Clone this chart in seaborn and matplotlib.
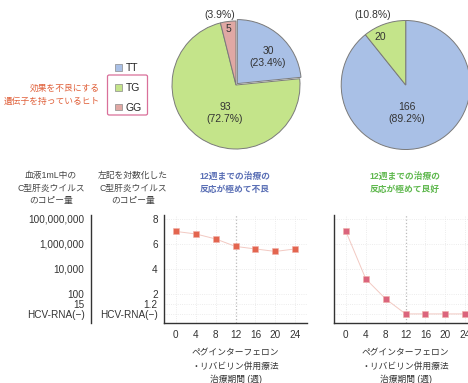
import numpy as np
import pandas as pd
import matplotlib
matplotlib.use("Agg")
import matplotlib.pyplot as plt
from matplotlib.patches import Patch, FancyBboxPatch
import seaborn as sns

# ---- data ----
genotypes = ["TT", "TG", "GG"]
poor_counts = [30, 93, 5]       # 12-week response extremely poor
good_counts = [166, 20, 0]      # 12-week response extremely good
pie_colors = ["#a9c0e6", "#c4e48a", "#e0a8a4"]

weeks = [0, 4, 8, 12, 16, 20, 24]
poor_log_copies = [7.0, 6.8, 6.4, 5.8, 5.6, 5.4, 5.6]
good_log_copies = [7.0, 3.2, 1.6, 0.4, 0.4, 0.4, 0.4]

ytick_vals = [8, 6, 4, 2, 1.2, 0.4]
ytick_log_labels = ["8", "6", "4", "2", "1.2", "HCV-RNA(\u2212)"]
ytick_copy_labels = ["100,000,000", "1,000,000", "10,000", "100", "15", "HCV-RNA(\u2212)"]

W, H = 468, 383

sns.set_theme(style="white")
plt.rcParams["font.family"] = ["Liberation Sans", "Noto Sans CJK JP"]
plt.rcParams["axes.unicode_minus"] = True

fig = plt.figure(figsize=(W / 100, H / 100), dpi=100)
fig.patch.set_facecolor("white")


def box(x0, y0, x1, y1):
    """Pixel box (top-left origin) -> figure fraction rect."""
    return [x0 / W, 1 - y1 / H, (x1 - x0) / W, (y1 - y0) / H]


def fxy(x, y):
    return x / W, 1 - y / H


# ---- pies ----
def draw_pie(cx, cy, r, counts, explode, label_pos):
    ax = fig.add_axes(box(cx - r, cy - r, cx + r, cy + r))
    vals = [c for c in counts if c > 0]
    cols = [pie_colors[i] for i, c in enumerate(counts) if c > 0]
    exp = [explode[i] for i, c in enumerate(counts) if c > 0]
    ax.pie(vals, colors=cols, startangle=90, counterclock=False, explode=exp,
           wedgeprops=dict(edgecolor="#7a7a7a", linewidth=0.7))
    ax.set_xlim(-1, 1)
    ax.set_ylim(-1, 1)
    ax.set_aspect("equal")
    total = sum(counts)
    for i, c in enumerate(counts):
        if c == 0:
            continue
        pct = c / total * 100
        pos = label_pos[i]
        if len(pos) == 2:
            ax.text(pos[0], pos[1], f"{c}\n({pct:.1f}%)", ha="center", va="center",
                    fontsize=7.5, color="#333333", linespacing=1.25)
        else:
            ax.text(pos[0], pos[1], f"{c}", ha="center", va="center",
                    fontsize=7.5, color="#333333")
            ax.text(pos[2], pos[3], f"({pct:.1f}%)", ha="center", va="center",
                    fontsize=7.5, color="#333333", clip_on=False)
    return ax


draw_pie(236, 85, 64, poor_counts, [0.03, 0, 0],
         {0: (0.5, 0.44), 1: (-0.17, -0.44), 2: (-0.125, 0.875, -0.25, 1.09)})
draw_pie(405.7, 85, 64.5, good_counts, [0, 0, 0],
         {0: (0.02, -0.44), 1: (-0.4, 0.75, -0.51, 1.09)})

# ---- legend ----
handles = [Patch(facecolor=c, edgecolor="#8a8a8a", linewidth=0.5) for c in pie_colors]
fig.legend(handles, genotypes, loc="upper left", bbox_to_anchor=fxy(108, 56),
           frameon=False, fontsize=7.5, handlelength=0.6, handleheight=0.6,
           handletextpad=0.4, labelspacing=0.93, borderpad=0.2)
fig.patches.append(FancyBboxPatch(fxy(107.5, 115), 40 / W, 40 / H,
                                  boxstyle="round,pad=0,rounding_size=0.004",
                                  transform=fig.transFigure, fill=False,
                                  edgecolor="#d9709a", linewidth=0.9))
fig.text(*fxy(100, 94.5), "効果を不良にする\n遺伝子を持っているヒト", ha="right", va="center",
         fontsize=6.3, color="#e0603a", linespacing=1.55)

# ---- column headers ----
hdr_kw = dict(ha="center", va="center", fontsize=6.3, color="#444444", linespacing=1.45)
fig.text(*fxy(51, 188), "血液1mL中の\nC型肝炎ウイルス\nのコピー量", **hdr_kw)
fig.text(*fxy(133, 188), "左記を対数化した\nC型肝炎ウイルス\nのコピー量", **hdr_kw)
fig.text(*fxy(235, 182.5), "12週までの治療の\n反応が極めて不良", ha="center", va="center",
         fontsize=6.3, color="#5a6fb5", fontweight="bold", linespacing=1.55)
fig.text(*fxy(405, 182.5), "12週までの治療の\n反応が極めて良好", ha="center", va="center",
         fontsize=6.3, color="#5fb84e", fontweight="bold", linespacing=1.55)

# ---- line panels ----
ylim = (-0.35, 8.3)
xlim = (-2.4, 26.4)
x_px_per = 4.97
y_top, y_bot = 215.2, 323.3


def style_axis(ax):
    for s in ["top", "right"]:
        ax.spines[s].set_visible(False)
    for s in ["left", "bottom"]:
        ax.spines[s].set_color("#333333")
        ax.spines[s].set_linewidth(1.0)
    ax.set_ylim(*ylim)
    ax.set_yticks(ytick_vals)
    ax.tick_params(axis="both", direction="out", length=3, width=0.9, color="#333333",
                   labelsize=7.2, labelcolor="#333333", pad=1.5)


def line_panel(x0, values, marker_color, show_labels):
    ax = fig.add_axes(box(x0, y_top, x0 + 28.8 * x_px_per, y_bot))
    ax.set_facecolor("none")
    style_axis(ax)
    ax.set_xlim(*xlim)
    ax.set_xticks(weeks)
    ax.tick_params(axis="x", length=0, pad=5)
    for w in weeks:
        ax.axvline(w, color="#bbbbbb" if w == 12 else "#e6e6e6", ls=":",
                   lw=0.9 if w == 12 else 0.6, zorder=0)
    for v in ytick_vals:
        ax.axhline(v, color="#e6e6e6", ls=":", lw=0.6, zorder=0)
    df = pd.DataFrame({"week": weeks, "log": values})
    sns.lineplot(data=df, x="week", y="log", ax=ax, color="#f2c9c2", lw=0.7,
                 marker="s", markersize=4.6, markerfacecolor=marker_color,
                 markeredgecolor="#f0b0a8", markeredgewidth=0.4)
    ax.set_xlabel("ペグインターフェロン\n・リバビリン併用療法\n治療期間 (週)",
                  fontsize=6.3, color="#333333", linespacing=1.55, labelpad=6)
    ax.set_ylabel("")
    if show_labels:
        ax.set_yticklabels(ytick_log_labels)
    else:
        ax.set_yticklabels([])
    return ax


line_panel(164, poor_log_copies, "#e3654f", True)
line_panel(334, good_log_copies, "#db647c", False)

# actual copy-number axis
axc = fig.add_axes(box(90.7, y_top, 92, y_bot))
axc.set_facecolor("none")
style_axis(axc)
axc.spines["bottom"].set_visible(False)
axc.set_xticks([])
axc.set_yticklabels(ytick_copy_labels)

fig.savefig("out.png", dpi=100, facecolor="white")
